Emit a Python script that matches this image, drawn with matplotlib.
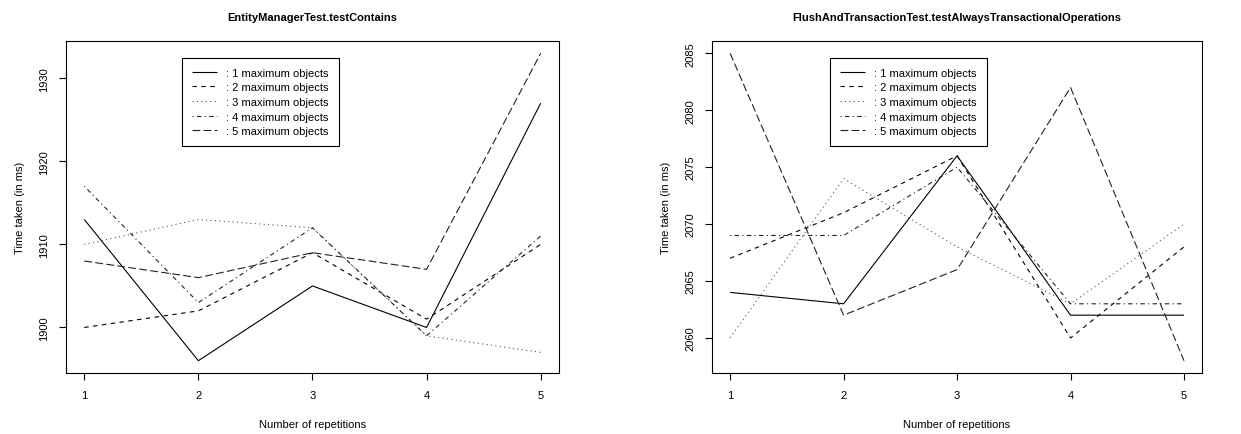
import matplotlib
matplotlib.use("Agg")
import matplotlib.pyplot as plt

plt.rcParams['font.family'] = ['Liberation Sans', 'DejaVu Sans']

# Данные
repetitions = [1, 2, 3, 4, 5]
labels = [": 1 maximum objects", ": 2 maximum objects", ": 3 maximum objects",
          ": 4 maximum objects", ": 5 maximum objects"]

contains_1 = [1913, 1896, 1905, 1900, 1927]
contains_2 = [1900, 1902, 1909, 1901, 1910]
contains_3 = [1910, 1913, 1912, 1899, 1897]
contains_4 = [1917, 1903, 1912, 1899, 1911]
contains_5 = [1908, 1906, 1909, 1907, 1933]

flush_1 = [2064, 2063, 2076, 2062, 2062]
flush_2 = [2067, 2071, 2076, 2060, 2068]
flush_3 = [2060, 2074, 2068, 2063, 2070]
flush_4 = [2069, 2069, 2075, 2063, 2063]
flush_5 = [2085, 2062, 2066, 2082, 2058]

# стили линий как в R (lty 1..5)
styles = [(0, ()), (0, (4, 4)), (0, (1, 3)), (0, (1, 3, 4, 3)), (0, (7, 3))]
colors = ['black', 'black', '#555555', '#222222', '#222222']


def draw(ax, series, title, yticks, leg_x):
    for s, ls, c, lab in zip(series, styles, colors, labels):
        ax.plot(repetitions, s, linestyle=ls, color=c, linewidth=0.8, label=lab)
    lo = min(min(s) for s in series)
    hi = max(max(s) for s in series)
    pad = (hi - lo) * 0.04
    ax.set_ylim(lo - pad, hi + pad)
    ax.set_xlim(0.84, 5.16)
    ax.set_xticks(repetitions)
    ax.set_yticks(yticks)
    ax.set_yticklabels([str(t) for t in yticks], rotation=90, va='center')
    ax.tick_params(direction='out', length=5, width=0.8, labelsize=8, pad=7)
    for sp in ax.spines.values():
        sp.set_linewidth(0.8)
    ax.set_title(title, fontsize=8, fontweight='bold', pad=15)
    ax.set_xlabel('Number of repetitions', fontsize=8, labelpad=14)
    ax.set_ylabel('Time taken (in ms)', fontsize=8, labelpad=10)
    leg = ax.legend(loc='upper left', bbox_to_anchor=(leg_x, 0.95), fontsize=8,
                    frameon=True, fancybox=False, framealpha=1, edgecolor='black',
                    handlelength=2.3, handletextpad=0.8, labelspacing=0.42,
                    borderpad=0.9, borderaxespad=0)
    leg.get_frame().set_linewidth(0.8)


fig = plt.figure(figsize=(12.41, 4.35), dpi=100)
ax1 = fig.add_axes([0.0532, 0.1402, 0.3972, 0.7632])
ax2 = fig.add_axes([0.5737, 0.1402, 0.3950, 0.7632])

draw(ax1, [contains_1, contains_2, contains_3, contains_4, contains_5],
     'EntityManagerTest.testContains', [1900, 1910, 1920, 1930], 0.235)
draw(ax2, [flush_1, flush_2, flush_3, flush_4, flush_5],
     'FlushAndTransactionTest.testAlwaysTransactionalOperations',
     [2060, 2065, 2070, 2075, 2080, 2085], 0.24)

plt.savefig('out.png', dpi=100)
